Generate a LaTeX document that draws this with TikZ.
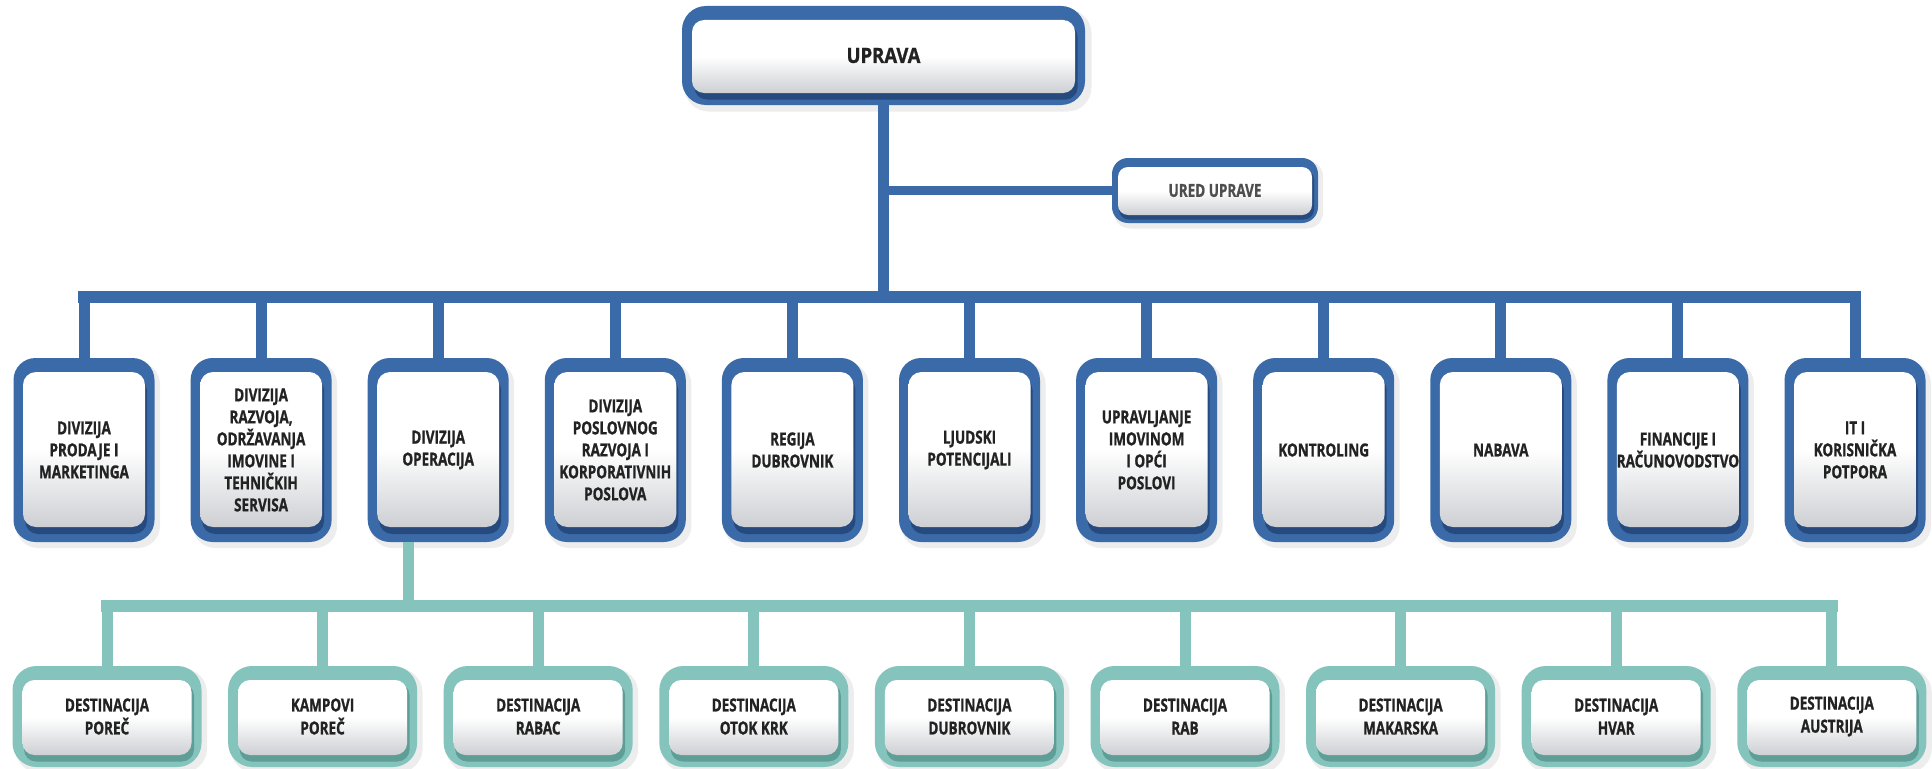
\documentclass[tikz,border=0pt]{standalone}
\usepackage{fontspec}
\usetikzlibrary{calc}
\newfontfamily\condfont[FakeStretch=0.75, BoldFeatures={FakeBold=1.0}]{Open Sans}
\newfontfamily\upfont[FakeStretch=0.88, BoldFeatures={FakeBold=1.0}]{Open Sans}
\definecolor{ublue}{HTML}{3B6AA8}
\definecolor{ubluedark}{HTML}{274A7E}
\definecolor{uteal}{HTML}{85C4BD}
\definecolor{utealdark}{HTML}{5E9E97}
\definecolor{ugray}{HTML}{CDCFD3}
\definecolor{utext}{HTML}{222222}
\tikzset{
  txtbase/.style={inner sep=0pt, align=center, text=utext},
  divtext/.style={txtbase, minimum width=141pt, minimum height=184pt,
     font=\condfont\bfseries\fontsize{18}{22}\selectfont},
  desttext/.style={txtbase, minimum width=189pt, minimum height=101pt,
     font=\condfont\bfseries\fontsize{18}{23}\selectfont},
  bluelink/.style={draw=ublue, line width=11pt},
  teallink/.style={draw=uteal, line width=11pt},
  innershade/.style={top color=white, bottom color=ugray, middle color=white}
}
% level-2 box: name, x, text
\newcommand\divbox[3]{%
  \fill[black,opacity=0.07,rounded corners=22pt] (#2-68,450-88) rectangle (#2+76,450+98);
  \fill[ublue,rounded corners=22pt] (#2-70.5,450-92) rectangle (#2+70.5,450+92);
  \fill[ubluedark,rounded corners=13pt] (#2-59,450-73) rectangle (#2+63,450+84);
  \shade[innershade,rounded corners=13pt] (#2-61,450-78) rectangle (#2+61,450+77);
  \node[divtext] (#1) at (#2,450) {#3};
}
% level-3 box: name, x, text
\newcommand\destbox[3]{%
  \fill[black,opacity=0.07,rounded corners=24pt] (#2-92,716.5-48) rectangle (#2+100,716.5+56);
  \fill[uteal,rounded corners=24pt] (#2-94.5,716.5-50.5) rectangle (#2+94.5,716.5+50.5);
  \fill[utealdark,rounded corners=12pt] (#2-83,716.5-33) rectangle (#2+87,716.5+45);
  \shade[innershade,rounded corners=12pt] (#2-84.5,716.5-36.5) rectangle (#2+84.5,716.5+38.5);
  \node[desttext] (#1) at (#2,716.5) {#3};
}
\begin{document}
\begin{tikzpicture}[x=1pt,y=-1pt]
\useasboundingbox[fill=white] (0,0) rectangle (1932,768);

% ---- UPRAVA ----
\fill[black,opacity=0.07,rounded corners=24pt] (883.5-199,55.5-46) rectangle (883.5+208,55.5+56);
\fill[ublue,rounded corners=24pt] (883.5-201.5,55.5-49.5) rectangle (883.5+201.5,55.5+49.5);
\fill[ubluedark,rounded corners=12pt] (883.5-189,55.5-31) rectangle (883.5+194,55.5+44);
\shade[innershade,rounded corners=12pt] (883.5-191.5,55.5-35.5) rectangle (883.5+191.5,55.5+37.5);
\node[txtbase, minimum width=403pt, minimum height=99pt,
      font=\upfont\bfseries\fontsize{21}{25}\selectfont] (upr) at (883.5,55.5) {UPRAVA};

% ---- URED UPRAVE ----
\fill[black,opacity=0.07,rounded corners=16pt] (1215-101,190.5-30) rectangle (1215+108,190.5+38);
\fill[ublue,rounded corners=16pt] (1215-103,190.5-32.5) rectangle (1215+103,190.5+32.5);
\fill[ubluedark,rounded corners=10pt] (1215-96,190.5-21) rectangle (1215+99,190.5+29);
\shade[innershade,rounded corners=10pt] (1215-97,190.5-23.5) rectangle (1215+97,190.5+24.5);
\node[txtbase, text=utext!80, minimum width=206pt, minimum height=65pt,
      font=\condfont\bfseries\fontsize{18}{22}\selectfont] (ured) at (1215,190.5) {URED UPRAVE};

% ---- level 2 ----
\divbox{b1}{84.0}{DIVIZIJA\\PRODAJE I\\MARKETINGA}
\divbox{b2}{261.1}{DIVIZIJA\\RAZVOJA,\\ODRŽAVANJA\\IMOVINE I\\TEHNIČKIH\\SERVISA}
\divbox{b3}{438.2}{DIVIZIJA\\OPERACIJA}
\divbox{b4}{615.3}{DIVIZIJA\\POSLOVNOG\\RAZVOJA I\\KORPORATIVNIH\\POSLOVA}
\divbox{b5}{792.4}{REGIJA\\DUBROVNIK}
\divbox{b6}{969.5}{LJUDSKI\\POTENCIJALI}
\divbox{b7}{1146.6}{UPRAVLJANJE\\IMOVINOM\\I OPĆI\\POSLOVI}
\divbox{b8}{1323.7}{KONTROLING}
\divbox{b9}{1500.8}{NABAVA}
\divbox{b10}{1677.9}{FINANCIJE I\\RAČUNOVODSTVO}
\divbox{b11}{1855.0}{IT I\\KORISNIČKA\\POTPORA}

% ---- level 3 ----
\destbox{d1}{107.0}{DESTINACIJA\\POREČ}
\destbox{d2}{322.6}{KAMPOVI\\POREČ}
\destbox{d3}{538.2}{DESTINACIJA\\RABAC}
\destbox{d4}{753.8}{DESTINACIJA\\OTOK KRK}
\destbox{d5}{969.4}{DESTINACIJA\\DUBROVNIK}
\destbox{d6}{1185.0}{DESTINACIJA\\RAB}
\destbox{d7}{1400.6}{DESTINACIJA\\MAKARSKA}
\destbox{d8}{1616.2}{DESTINACIJA\\HVAR}
\destbox{d9}{1831.8}{DESTINACIJA\\AUSTRIJA}

% ---- connectors ----
\coordinate (busL) at (84,297);
\coordinate (busR) at (1855,297);
\coordinate (gbusL) at (107,606);
\coordinate (gbusR) at (1831.8,606);

\draw[bluelink] (upr.south) -- (upr.south |- busL);
\draw[bluelink, line width=9pt] (ured.west) -- (ured.west -| upr.south);
\draw[bluelink, line width=12pt, line cap=rect] (busL) -- (busR);
\foreach \b in {b1,b2,b3,b4,b5,b6,b7,b8,b9,b10,b11}
  \draw[bluelink] (\b.north) -- (\b.north |- busL);

\draw[teallink] ([xshift=-30pt]b3.south) -- ([xshift=-30pt]b3.south |- gbusL);
\draw[teallink, line width=12pt, line cap=rect] (gbusL) -- (gbusR);
\foreach \d in {d1,d2,d3,d4,d5,d6,d7,d8,d9}
  \draw[teallink] (\d.north) -- (\d.north |- gbusL);
\end{tikzpicture}
\end{document}
